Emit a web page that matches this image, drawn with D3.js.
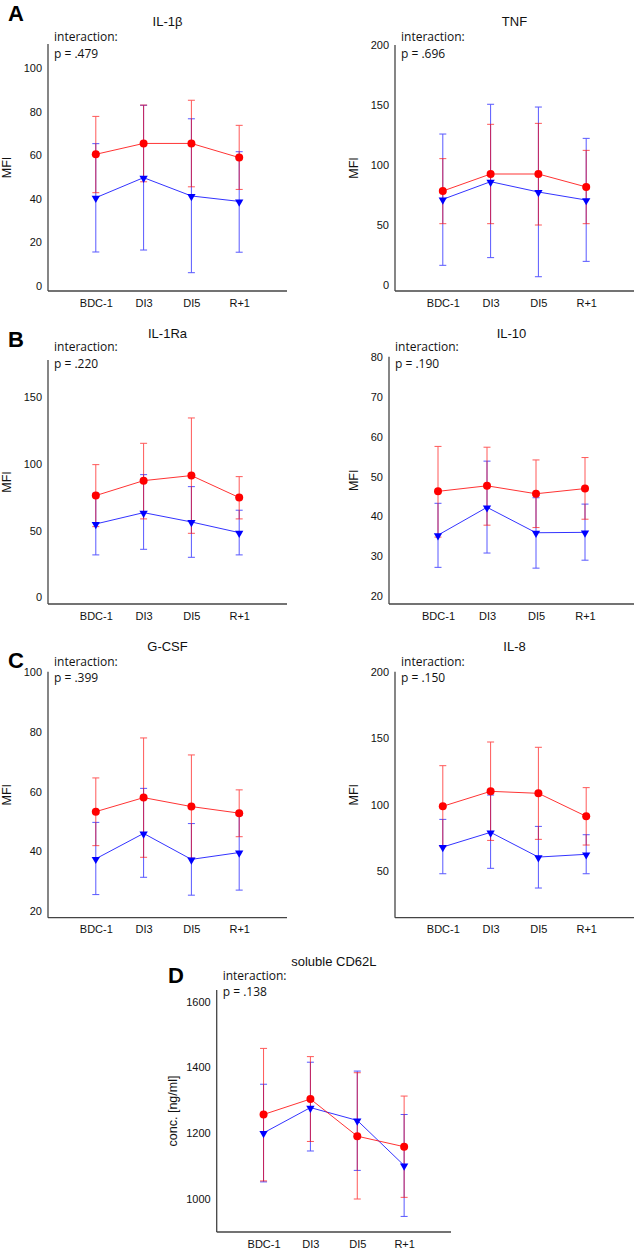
<!DOCTYPE html>
<html><head><meta charset="utf-8">
<script src="https://cdn.jsdelivr.net/npm/d3@7"></script>
<style>body{margin:0;background:#fff}svg{display:block}</style>
</head><body><svg id="c" width="636" height="1250"></svg>
<script>
const categories = ["BDC-1","DI3","DI5","R+1"];
const titles = ["IL-1β","TNF","IL-1Ra","IL-10","G-CSF","IL-8","soluble CD62L"];
const pValues = ["p = .479","p = .696","p = .220","p = .190","p = .399","p = .150","p = .138"];
const letters = ["A","","B","","C","","D"];
const yLabels = ["MFI","MFI","MFI","MFI","MFI","MFI","conc. [ng/ml]"];
const yTicks = [[0,20,40,60,80,100],[0,50,100,150,200],[0,50,100,150],[20,30,40,50,60,70,80],[20,40,60,80,100],[50,100,150,200],[1000,1200,1400,1600]];
const redMean  = [[60.4,65.4,65.4,58.9],[78.3,92.5,92.5,81.7],[76.3,87.5,91.3,74.8],[46.3,47.7,45.7,47.0],[53.3,58.0,55.0,52.8],[98.7,110.0,108.5,91.1],[1257,1304,1191,1159]];
const redUpper = [[77.8,83.0,85.2,73.7],[105.3,133.9,134.7,112.2],[99.5,115.5,134.5,90.5],[57.6,57.4,54.2,54.8],[64.6,78.0,72.3,60.6],[129.4,147.3,143.3,112.8],[1458,1433,1384,1313]];
const redLower = [[42.8,47.8,45.5,44.3],[51.1,51.1,50.0,51.1],[53.0,58.8,48.0,58.8],[34.8,37.8,37.2,39.3],[41.9,38.0,37.7,44.9],[68.1,72.9,73.7,69.4],[1055,1175,1000,1005]];
const blueMean  = [[40.5,49.7,41.3,38.8],[71.4,86.1,77.5,70.8],[55.0,63.5,56.5,48.5],[35.3,42.3,35.9,36.0],[37.5,46.0,37.3,39.6],[67.9,79.0,60.3,62.4],[1201,1278,1239,1102]];
const blueUpper = [[65.3,82.9,76.7,61.6],[125.8,150.6,148.3,122.2],[78.0,92.0,83.0,65.3],[43.3,53.9,44.7,43.1],[49.7,61.1,49.3,52.1],[88.8,107.2,83.5,77.2],[1349,1416,1389,1257]];
const blueLower = [[15.6,16.5,6.1,15.5],[16.4,22.8,6.9,19.7],[31.8,36.0,30.0,31.8],[27.2,30.8,27.0,29.0],[25.5,31.3,25.3,27.0],[47.7,51.8,36.9,47.7],[1052,1146,1087,947]];

// layout (pixel geometry of each panel)
const layout = [
 {left:48, right:287, top:44, bottom:291, y0:286, y1:68, titleY:21, interY:37, letterX:8, letterY:21, ylabX:7},
 {left:395, right:634, top:45, bottom:291, y0:285, y1:45, titleY:21, interY:37, ylabX:354},
 {left:48, right:287, top:360, bottom:604, y0:597.3, y1:397.3, titleY:333, interY:347, letterX:8, letterY:347, ylabX:7},
 {left:389, right:634, top:356.7, bottom:604, y0:596, y1:357.3, titleY:333, interY:347, ylabX:354},
 {left:48, right:287, top:671.7, bottom:917.7, y0:911, y1:672.3, titleY:646, interY:661.7, letterX:8, letterY:668, ylabX:7},
 {left:395, right:634, top:671.7, bottom:917.7, y0:870.7, y1:672.3, titleY:646, interY:661.7, ylabX:354},
 {left:216.7, right:451, top:990, bottom:1232, y0:1199, y1:1001.7, titleY:961.7, interY:975.7, letterX:168, letterY:983, ylabX:172.7}
];

const svg = d3.select("#c");
const RED = "#ff0000", BLUE = "#0000ff";
const tickFont = "'Liberation Sans', Arial, sans-serif";
const noteFont = "'Open Sans', 'Noto Sans', sans-serif";

titles.forEach((t, i) => {
  const L = layout[i];
  const g = svg.append("g");
  const ticks = yTicks[i];
  const y = d3.scaleLinear().domain([ticks[0], ticks[ticks.length-1]]).range([L.y0, L.y1]);
  const x = d3.scalePoint().domain(categories).range([L.left, L.right]).padding(1);

  // axes
  g.append("line").attr("x1", L.left).attr("x2", L.left).attr("y1", L.top).attr("y2", L.bottom)
    .attr("stroke", "#444").attr("stroke-width", 1.3);
  g.append("line").attr("x1", L.left).attr("x2", L.right).attr("y1", L.bottom).attr("y2", L.bottom)
    .attr("stroke", "#444").attr("stroke-width", 1.3);

  const yAx = d3.axisLeft(y).tickValues(ticks).tickSize(0).tickPadding(6).tickFormat(d3.format("d"));
  const ya = g.append("g").attr("transform", `translate(${L.left},0)`).call(yAx);
  ya.select(".domain").remove();
  ya.selectAll("text").attr("font-family", tickFont).attr("font-size", 11).attr("fill", "#111");

  const xAx = d3.axisBottom(x).tickSize(0).tickPadding(8);
  const xa = g.append("g").attr("transform", `translate(0,${L.bottom})`).call(xAx);
  xa.select(".domain").remove();
  xa.selectAll("text").attr("font-family", tickFont).attr("font-size", 11).attr("fill", "#111");

  // title
  g.append("text").attr("x", (L.left + L.right) / 2).attr("y", L.titleY).attr("dy", "0.35em")
    .attr("text-anchor", "middle").attr("font-family", tickFont).attr("font-size", 13).attr("fill", "#111").text(t);
  // interaction
  g.append("text").attr("x", L.left + 6).attr("y", L.interY).attr("dy", "0.35em")
    .attr("font-family", noteFont).attr("font-size", 12).attr("fill", "#111").text("interaction:");
  g.append("text").attr("x", L.left + 6).attr("y", L.interY + 16.5).attr("dy", "0.35em")
    .attr("font-family", noteFont).attr("font-size", 12).attr("fill", "#111").text(pValues[i]);
  // letter
  if (letters[i]) {
    g.append("text").attr("x", L.letterX).attr("y", L.letterY)
      .attr("font-family", tickFont).attr("font-weight", "bold").attr("font-size", 22).attr("fill", "#000").text(letters[i]);
  }
  // y label
  g.append("text").attr("transform", `translate(${L.ylabX},${(L.top + L.bottom) / 2}) rotate(-90)`)
    .attr("dy", "0.35em").attr("text-anchor", "middle").attr("font-family", tickFont).attr("font-size", 12.5)
    .attr("fill", "#111").text(yLabels[i]);

  const series = [
    {color: BLUE, mean: blueMean[i], up: blueUpper[i], lo: blueLower[i], shape: "tri"},
    {color: RED, mean: redMean[i], up: redUpper[i], lo: redLower[i], shape: "circ"}
  ];
  // error bars
  series.forEach(s => {
    const eb = g.append("g").attr("stroke", s.color).attr("stroke-width", 1).attr("opacity", 0.65);
    categories.forEach((c, k) => {
      const cx = x(c);
      eb.append("line").attr("x1", cx).attr("x2", cx).attr("y1", y(s.up[k])).attr("y2", y(s.lo[k]));
      eb.append("line").attr("x1", cx - 3.5).attr("x2", cx + 3.5).attr("y1", y(s.up[k])).attr("y2", y(s.up[k]));
      eb.append("line").attr("x1", cx - 3.5).attr("x2", cx + 3.5).attr("y1", y(s.lo[k])).attr("y2", y(s.lo[k]));
    });
  });
  // mean lines
  series.forEach(s => {
    const line = d3.line().x((d, k) => x(categories[k])).y(d => y(d));
    g.append("path").attr("d", line(s.mean)).attr("fill", "none").attr("stroke", s.color)
      .attr("stroke-width", 1).attr("opacity", 0.8);
  });
  // markers
  const red = series[1], blue = series[0];
  g.selectAll(null).data(red.mean).join("circle")
    .attr("cx", (d, k) => x(categories[k])).attr("cy", d => y(d)).attr("r", 4).attr("fill", RED);
  g.selectAll(null).data(blue.mean).join("path")
    .attr("d", d3.symbol().type(d3.symbolTriangle).size(30))
    .attr("transform", (d, k) => `translate(${x(categories[k])},${y(d) + 0.5}) rotate(180)`)
    .attr("fill", BLUE);
});
</script></body></html>
